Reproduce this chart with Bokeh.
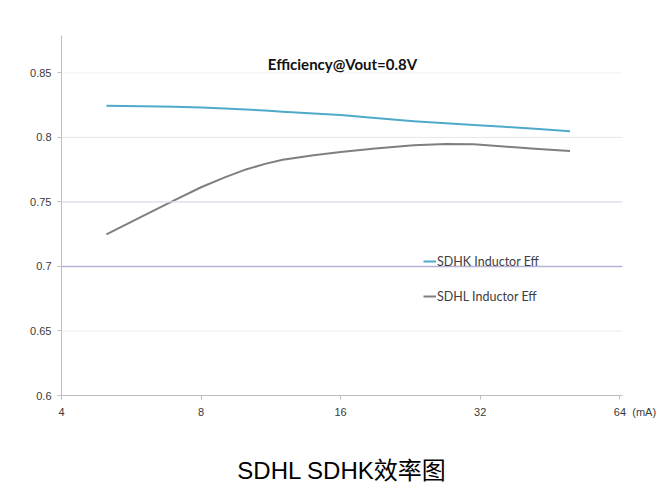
from bokeh.plotting import figure
from bokeh.models import (FixedTicker, Span, Label, Legend, LegendItem, Range1d)
from bokeh.embed import file_html
from bokeh.resources import INLINE

# ---- data ----
current_ma = [5, 6, 7, 8, 9, 10, 11, 12, 14, 16, 19, 23, 27, 31, 36, 42, 50]
sdhk_eff = [0.8245, 0.8242, 0.8238, 0.8232, 0.8225, 0.8217, 0.8208, 0.8200,
            0.8185, 0.8173, 0.8150, 0.8126, 0.8110, 0.8097, 0.8083, 0.8067, 0.8047]
sdhl_eff = [0.7248, 0.7392, 0.7512, 0.7614, 0.7690, 0.7752, 0.7795, 0.7827,
            0.7862, 0.7887, 0.7914, 0.7940, 0.7950, 0.7948, 0.7930, 0.7912, 0.7894]
x_ticks = [4, 8, 16, 32, 64]
y_ticks = [0.6, 0.65, 0.7, 0.75, 0.8, 0.85]
y_tick_labels = ["0.6", "0.65", "0.7", "0.75", "0.8", "0.85"]
series_names = ["SDHK Inductor Eff", "SDHL Inductor Eff"]
chart_title = "Efficiency@Vout=0.8V"
caption = "SDHL SDHK效率图"
unit_label = "(mA)"

# ---- style ----
grid_colors = [None, "#ebebeb", "#b8b2d8", "#dcd8ee", "#e6e4f0", "#f1f1f1"]
grid_widths = [0, 1, 1.5, 1.2, 1, 1]
blue = "#4eaac8"
gray = "#7f7f7f"
text_col = "#3a3a3a"
NBSP = "\u00a0"

p = figure(width=658, height=490, x_axis_type="log",
           x_range=Range1d(4, 64.9), y_range=Range1d(0.6, 0.879),
           output_backend="svg", toolbar_location=None,
           min_border_left=61, min_border_right=36,
           min_border_top=35, min_border_bottom=95)
p.outline_line_color = None
p.xgrid.visible = False
p.ygrid.visible = False

# x axis; the unit "(mA)" follows the last tick label (balanced with
# leading non-breaking spaces so that "64" stays centred on its tick)
x_labels = {t: str(t) for t in x_ticks}
x_labels[x_ticks[-1]] = NBSP * 10 + str(x_ticks[-1]) + NBSP * 2 + unit_label
p.xaxis.ticker = FixedTicker(ticks=x_ticks)
p.xaxis.major_label_overrides = x_labels
p.xaxis.minor_tick_line_color = None
p.xaxis.major_tick_out = 4
p.xaxis.major_tick_in = 0
p.xaxis.axis_line_color = "#bdbdbd"
p.xaxis.major_tick_line_color = "#bdbdbd"
p.xaxis.major_label_text_font = "Liberation Sans"
p.xaxis.major_label_text_font_size = "11px"
p.xaxis.major_label_text_color = text_col
p.xaxis.major_label_standoff = 6
# caption under the chart
p.xaxis.axis_label = caption
p.xaxis.axis_label_text_font = "Liberation Sans, Noto Sans CJK SC"
p.xaxis.axis_label_text_font_size = "24px"
p.xaxis.axis_label_text_font_style = "normal"
p.xaxis.axis_label_text_color = "#000000"
p.xaxis.axis_label_standoff = 36

p.yaxis.ticker = FixedTicker(ticks=y_ticks)
p.yaxis.major_label_overrides = {t: l for t, l in zip(y_ticks, y_tick_labels)}
p.yaxis.minor_tick_line_color = None
p.yaxis.major_tick_out = 4
p.yaxis.major_tick_in = 0
p.yaxis.axis_line_color = "#bdbdbd"
p.yaxis.major_tick_line_color = "#bdbdbd"
p.yaxis.major_label_text_font = "Liberation Sans"
p.yaxis.major_label_text_font_size = "11px"
p.yaxis.major_label_text_color = text_col
p.yaxis.major_label_standoff = 6

# grid lines
for t, c, w in zip(y_ticks, grid_colors, grid_widths):
    if c is None:
        continue
    p.add_layout(Span(location=t, dimension="width", line_color=c, line_width=w))

r1 = p.line(current_ma, sdhk_eff, line_color=blue, line_width=2, line_join="round")
r2 = p.line(current_ma, sdhl_eff, line_color=gray, line_width=2, line_join="round")

legend = Legend(items=[LegendItem(label=series_names[0], renderers=[r1]),
                       LegendItem(label=series_names[1], renderers=[r2])],
                location=(362, 89), orientation="vertical",
                background_fill_alpha=0, border_line_color=None,
                padding=0, margin=0, spacing=15,
                glyph_width=13, glyph_height=20, label_standoff=1,
                label_text_font="Lato", label_text_font_size="12.5px",
                label_text_color="#404040")
p.add_layout(legend, "center")

p.add_layout(Label(x=281, y=332, x_units="screen", y_units="screen",
                   text=chart_title, text_font="Lato", text_font_style="bold",
                   text_font_size="15px", text_color="#111111",
                   text_align="center", text_baseline="middle"))

open("out.html", "w").write(file_html(p, INLINE))
